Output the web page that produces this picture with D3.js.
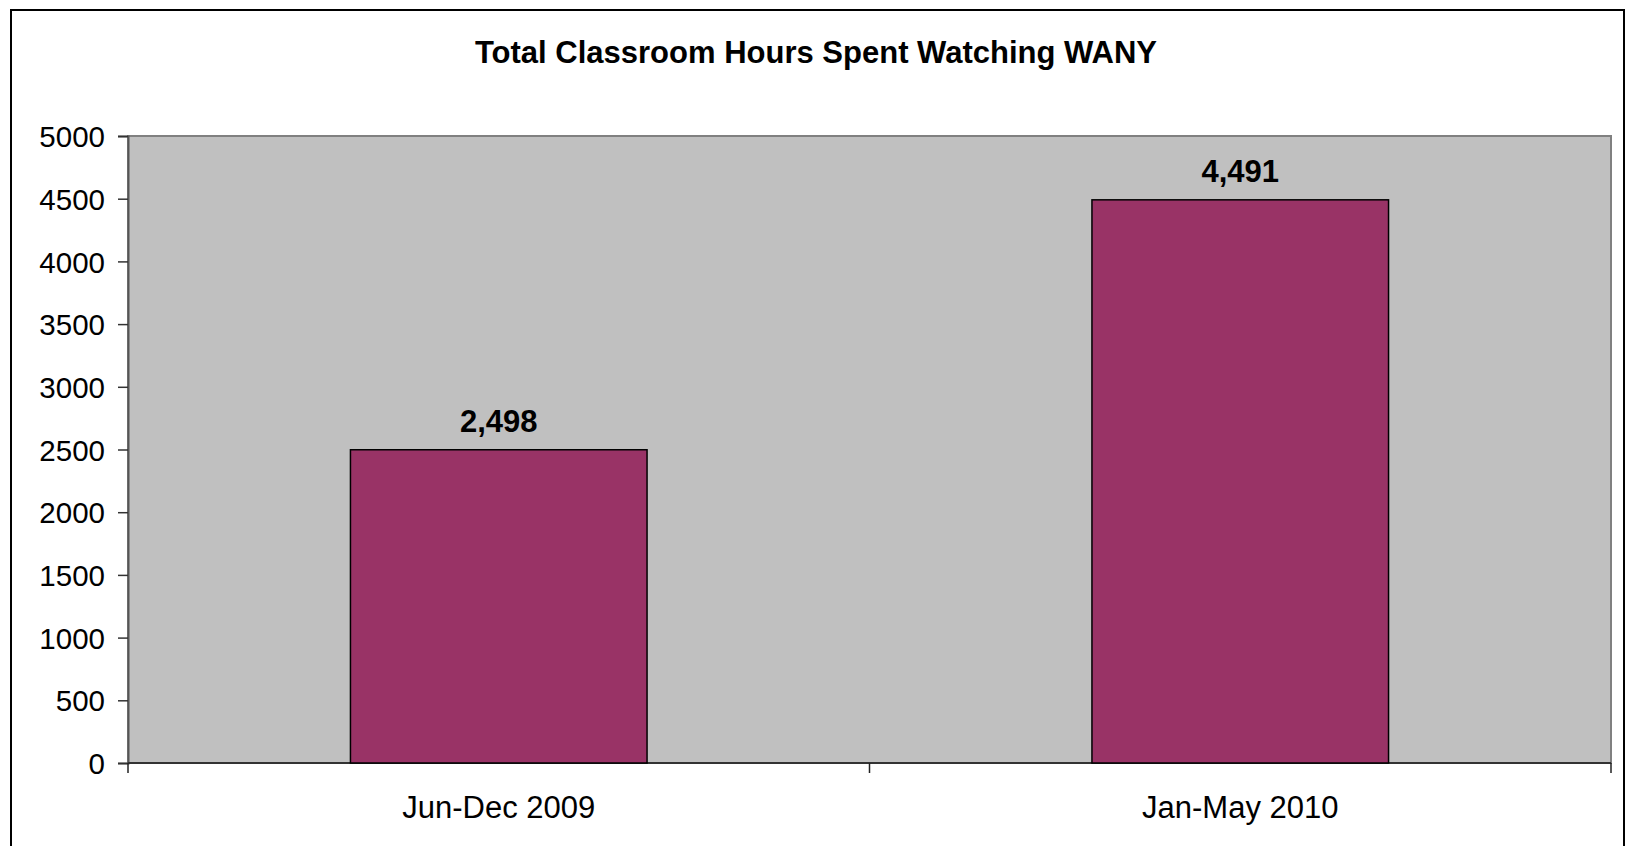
<!DOCTYPE html>
<html>
<head>
<meta charset="utf-8">
<script src="https://cdn.jsdelivr.net/npm/d3@7"></script>
<style>
  body { margin: 0; background: #fff; }
  svg { display: block; }
  text { font-family: "Liberation Sans", Arial, sans-serif; fill: #000; }
</style>
</head>
<body>
<svg id="chart"></svg>
<script>
const width = 1628, height = 846;

// data
const categories = ["Jun-Dec 2009", "Jan-May 2010"];
const hours = [2498, 4491];
const yTicks = [0, 500, 1000, 1500, 2000, 2500, 3000, 3500, 4000, 4500, 5000];
const chartTitle = "Total Classroom Hours Spent Watching WANY";

const plot = {left: 128, top: 136, right: 1611, bottom: 763};

let svg = d3.select("#chart")
    .attr("width", width)
    .attr("height", height);

// outer chart border
svg.append("rect")
    .attr("x", 11).attr("y", 10)
    .attr("width", 1613).attr("height", 850)
    .style("fill", "#fff")
    .style("stroke", "#000")
    .style("stroke-width", 2);

let x = d3.scaleBand()
    .domain(categories)
    .range([plot.left, plot.right])
    .paddingInner(0.6)
    .paddingOuter(0.3);

let xEdges = d3.scaleBand()
    .domain(categories)
    .range([plot.left, plot.right]);

let y = d3.scaleLinear()
    .domain([0, 5000])
    .range([plot.bottom, plot.top]);

// plot area
svg.append("rect")
    .attr("x", plot.left).attr("y", plot.top)
    .attr("width", plot.right - plot.left)
    .attr("height", plot.bottom - plot.top)
    .style("fill", "#c0c0c0")
    .style("stroke", "#808080")
    .style("stroke-width", 2);

// y axis
let yAxis = svg.append("g")
    .attr("transform", `translate(${plot.left},0)`)
    .call(d3.axisLeft(y).tickValues(yTicks).tickSize(10).tickPadding(13).tickFormat(d3.format("d")));

yAxis.select(".domain").style("stroke", "#555").style("stroke-width", 2);
yAxis.selectAll("line").style("stroke", "#333").style("stroke-width", 1.5);
yAxis.selectAll("text")
    .style("font-size", "29.5px")
    .style("font-family", "Liberation Sans, Arial, sans-serif")
    .attr("dy", "0.36em");

// x axis, ticks between categories
let xAxisG = svg.append("g")
    .attr("transform", `translate(0,${plot.bottom})`);

xAxisG.append("line")
    .attr("x1", plot.left).attr("x2", plot.right)
    .style("stroke", "#333").style("stroke-width", 2);

let boundaries = [plot.left].concat(categories.map(c => xEdges(c) + xEdges.bandwidth()));
xAxisG.selectAll(".xtick")
    .data(boundaries)
    .enter()
    .append("line")
    .attr("class", "xtick")
    .attr("x1", d => d).attr("x2", d => d)
    .attr("y1", 0).attr("y2", 10)
    .style("stroke", "#222").style("stroke-width", 1.5);

xAxisG.selectAll(".xlabel")
    .data(categories)
    .enter()
    .append("text")
    .attr("class", "xlabel")
    .attr("x", d => xEdges(d) + xEdges.bandwidth() / 2)
    .attr("y", 55)
    .style("text-anchor", "middle")
    .style("font-size", "31px")
    .text(d => d);

// bars
svg.selectAll(".bar")
    .data(hours)
    .enter()
    .append("rect")
    .attr("class", "bar")
    .attr("x", (d, i) => x(categories[i]))
    .attr("y", d => y(d))
    .attr("width", x.bandwidth())
    .attr("height", d => y(0) - y(d))
    .style("fill", "#993366")
    .style("stroke", "#000")
    .style("stroke-width", 1.5);

// value labels
svg.selectAll(".val")
    .data(hours)
    .enter()
    .append("text")
    .attr("class", "val")
    .attr("x", (d, i) => x(categories[i]) + x.bandwidth() / 2)
    .attr("y", d => y(d) - 18)
    .style("text-anchor", "middle")
    .style("font-size", "31px")
    .style("font-weight", "bold")
    .text(d => d3.format(",")(d));

// title
svg.append("text")
    .attr("x", 816)
    .attr("y", 63)
    .style("text-anchor", "middle")
    .style("font-size", "31px")
    .style("font-weight", "bold")
    .text(chartTitle);
</script>
</body>
</html>
